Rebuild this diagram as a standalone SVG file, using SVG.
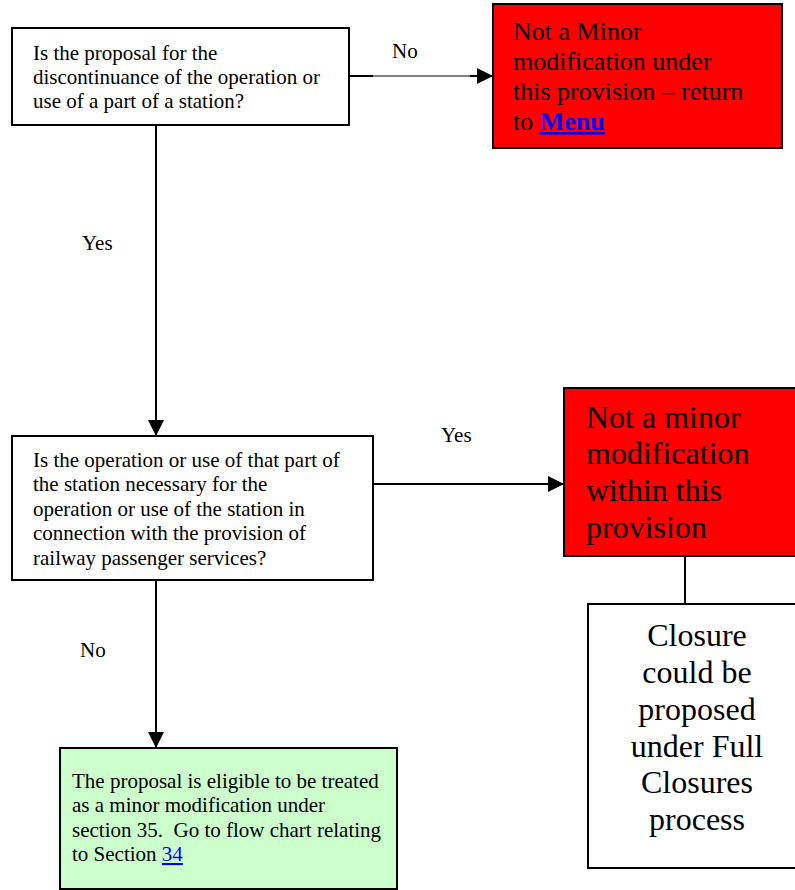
<svg xmlns="http://www.w3.org/2000/svg" width="795" height="890" viewBox="0 0 795 890">
<style>
text{font-family:"Liberation Serif","Times New Roman",serif;fill:#000}
.s21{font-size:21px}
.s26{font-size:26px}
.s32{font-size:32px}
.box{stroke:#000;stroke-width:2}
.ln{stroke:#000;stroke-width:2;fill:none}
.lnk{fill:#0000FF;text-decoration:underline}
</style>
<defs>
<marker id="ah" markerWidth="16" markerHeight="16" refX="16" refY="8" orient="auto" markerUnits="userSpaceOnUse">
<path d="M0,0 L16,8 L0,16 Z" fill="#000"/>
</marker>
</defs>
<rect width="795" height="890" fill="#fff"/>
<g id="connectors">
<line class="ln" x1="349" y1="76" x2="373" y2="76"/>
<line x1="373" y1="76" x2="470" y2="76" stroke="#000" stroke-width="1"/>
<line class="ln" x1="470" y1="76" x2="493" y2="76" marker-end="url(#ah)"/>
<text class="s21" x="392" y="58">No</text>
<line class="ln" x1="156" y1="125" x2="156" y2="436" marker-end="url(#ah)"/>
<text class="s21" x="82" y="250">Yes</text>
<line class="ln" x1="373" y1="484" x2="564" y2="484" marker-end="url(#ah)"/>
<text class="s21" x="441" y="442">Yes</text>
<line class="ln" x1="156" y1="580" x2="156" y2="748" marker-end="url(#ah)"/>
<text class="s21" x="80" y="657">No</text>
<line class="ln" x1="685" y1="556" x2="685" y2="604"/>
</g>
<g id="q1">
<rect class="box" x="12" y="28" width="337" height="97" fill="#fff"/>
<text class="s21" x="33" y="60">Is the proposal for the</text>
<text class="s21" x="33" y="84">discontinuance of the operation or</text>
<text class="s21" x="33" y="108">use of a part of a station?</text>
</g>
<g id="notminor1">
<rect class="box" x="493" y="4" width="289" height="144" fill="#FF0000"/>
<text class="s26" x="513" y="40">Not a Minor</text>
<text class="s26" x="513" y="70">modification under</text>
<text class="s26" x="513" y="100">this provision – return</text>
<text class="s26" x="513" y="130">to <tspan class="lnk" font-weight="bold">Menu</tspan></text>
</g>
<g id="q2">
<rect class="box" x="12" y="436" width="361" height="144" fill="#fff"/>
<text class="s21" x="33" y="467">Is the operation or use of that part of</text>
<text class="s21" x="33" y="491">the station necessary for the</text>
<text class="s21" x="33" y="516">operation or use of the station in</text>
<text class="s21" x="33" y="540">connection with the provision of</text>
<text class="s21" x="33" y="565">railway passenger services?</text>
</g>
<g id="notminor2">
<rect class="box" x="564" y="388" width="240" height="168" fill="#FF0000"/>
<text class="s32" x="586" y="428">Not a minor</text>
<text class="s32" x="586" y="464">modification</text>
<text class="s32" x="586" y="501">within this</text>
<text class="s32" x="586" y="538">provision</text>
</g>
<g id="closure">
<rect class="box" x="588" y="604" width="220" height="264" fill="#fff"/>
<g text-anchor="middle">
<text class="s32" x="697" y="646">Closure</text>
<text class="s32" x="697" y="683">could be</text>
<text class="s32" x="697" y="720">proposed</text>
<text class="s32" x="697" y="757">under Full</text>
<text class="s32" x="697" y="793">Closures</text>
<text class="s32" x="697" y="830">process</text>
</g>
</g>
<g id="eligible">
<rect class="box" x="60" y="748" width="337" height="141" fill="#CCFFCC"/>
<text class="s21" x="72" y="788">The proposal is eligible to be treated</text>
<text class="s21" x="72" y="812">as a minor modification under</text>
<text class="s21" x="72" y="837">section 35.&#160; Go to flow chart relating</text>
<text class="s21" x="72" y="861">to Section <tspan class="lnk">34</tspan></text>
</g>
</svg>
